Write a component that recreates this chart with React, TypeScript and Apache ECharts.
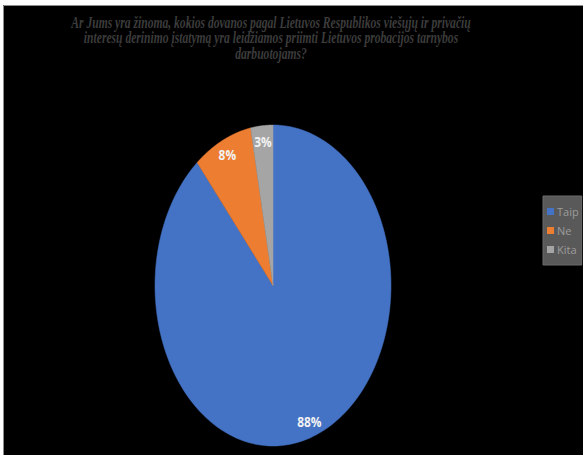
import React, { useEffect, useRef } from "react";
import * as echarts from "echarts";

const categories = ["Taip", "Ne", "Kita"];
const values = [88, 8, 3];
const colors = ["#4472c4", "#ed7d31", "#a5a5a5"];
const titleLines = [
  "Ar Jums yra žinoma, kokios dovanos pagal Lietuvos Respublikos viešųjų ir privačių",
  "interesų derinimo įstatymą yra leidžiamos priimti Lietuvos probacijos tarnybos",
  "darbuotojams?",
];

const CX = 273;
const CY = 285.5;
const RX = 118;
const RY = 160.5;
const LABEL_R = 0.9;

function makeRenderItem(idx: number) {
  return (params: any, api: any) => {
    const total = values.reduce((a, b) => a + b, 0);
    let before = 0;
    for (let i = 0; i < idx; i++) before += values[i];
    const v = api.value(0);
    const a0 = (before / total) * Math.PI * 2;
    const a1 = ((before + v) / total) * Math.PI * 2;
    const pts: number[][] = [[CX, CY]];
    const N = 160;
    for (let k = 0; k <= N; k++) {
      const a = a0 + ((a1 - a0) * k) / N;
      pts.push([CX + RX * Math.sin(a), CY - RY * Math.cos(a)]);
    }
    const am = (a0 + a1) / 2;
    const lx = CX + RX * LABEL_R * Math.sin(am);
    const ly = CY - RY * LABEL_R * Math.cos(am);
    return {
      type: "group",
      children: [
        {
          type: "polygon",
          shape: { points: pts },
          style: { fill: colors[idx], stroke: colors[idx], lineWidth: 0.5 },
        },
        {
          type: "text",
          x: lx,
          y: ly,
          scaleX: 0.85,
          style: {
            text: v + "%",
            fill: "#f2f2f2",
            font: "bold 14px 'Open Sans', sans-serif",
            align: "center",
            verticalAlign: "middle",
          },
        },
      ],
    };
  };
}

export default function App() {
  const ref = useRef<HTMLDivElement>(null);
  useEffect(() => {
    document.body.style.margin = "0";
    if (!ref.current) return;
    const chart = echarts.init(ref.current, undefined, { renderer: "svg" });
    const option: any = {
      animation: false,
      backgroundColor: "#000000",
      legend: {
        orient: "vertical",
        left: 543,
        top: 196,
        data: categories,
        icon: "rect",
        itemWidth: 7,
        itemHeight: 7,
        itemGap: 8,
        padding: [10, 3, 10, 4],
        backgroundColor: "#595959",
        borderColor: "#6a6a6a",
        borderWidth: 1,
        textStyle: {
          color: "#9c9c9c",
          fontSize: 11,
          fontFamily: "'Open Sans', sans-serif",
          padding: [0, 0, 0, -2],
        },
        selectedMode: false,
      },
      graphic: [
        { type: "rect", shape: { x: 0, y: 0, width: 583, height: 5 }, style: { fill: "#ffffff" } },
        { type: "rect", shape: { x: 0, y: 0, width: 3, height: 455 }, style: { fill: "#ffffff" } },
        { type: "line", shape: { x1: 3.5, y1: 5.5, x2: 583, y2: 5.5 }, style: { stroke: "#8c8c8c", lineWidth: 1 } },
        { type: "line", shape: { x1: 3.5, y1: 5.5, x2: 3.5, y2: 455 }, style: { stroke: "#8c8c8c", lineWidth: 1 } },
        ...titleLines.map((t, i) => ({
          type: "text",
          x: 271,
          y: 22.5 + i * 15.5,
          scaleX: 0.725,
          style: {
            text: t,
            fill: "#3c3c3c",
            font: "italic bold 16px 'Liberation Serif', serif",
            align: "center",
            verticalAlign: "middle",
          },
        })),
      ],
      series: categories.map((name, i) => ({
        type: "custom",
        name,
        coordinateSystem: "none",
        itemStyle: { color: colors[i] },
        data: [[values[i]]],
        renderItem: makeRenderItem(i),
      })),
    };
    chart.setOption(option);
    return () => chart.dispose();
  }, []);
  return <div ref={ref} style={{ width: 583, height: 455 }} />;
}
